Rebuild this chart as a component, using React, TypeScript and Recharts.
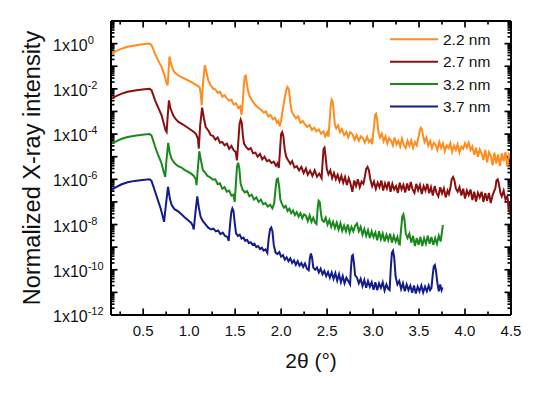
import React from 'react';
import { LineChart, Line, XAxis, YAxis, Legend } from 'recharts';

const FONT = '"Liberation Sans", Arial, Helvetica, sans-serif';

const seriesNames = ['2.2 nm', '2.7 nm', '3.2 nm', '3.7 nm'];
const seriesColors = ['#FF8C1E', '#8A1010', '#18891A', '#121C8A'];

// [2θ (deg), log10(normalized intensity)]
const orange22: [number, number][] = [
  [0.15, -0.45], [0.2, -0.34], [0.26, -0.23], [0.33, -0.14], [0.41, -0.08], [0.49, -0.03], [0.57, 0.0], [0.59, -0.06],
  [0.61, -0.25], [0.63, -0.47], [0.66, -0.72], [0.7, -1.04], [0.73, -1.38], [0.755, -1.75], [0.766, -1.85], [0.776, -1.2],
  [0.786, -0.57], [0.8, -0.85], [0.826, -1.18], [0.85, -1.3], [0.88, -1.4], [0.916, -1.48], [0.95, -1.55], [0.985, -1.62],
  [1.025, -1.7], [1.06, -1.79], [1.09, -1.86], [1.116, -1.95], [1.128, -2.3], [1.136, -2.73], [1.15, -1.8], [1.17, -0.96],
  [1.185, -1.2], [1.207, -1.62], [1.23, -1.82], [1.26, -1.99],
  [1.285, -2.02], [1.31, -2.18], [1.335, -2.12], [1.36, -2.35], [1.385, -2.28], [1.41, -2.42], [1.435, -2.52], [1.46, -2.48],
  [1.485, -2.7], [1.51, -2.64], [1.535, -2.85], [1.555, -2.78], [1.57, -3.15], [1.585, -2.5], [1.595, -1.8], [1.605, -1.45],
  [1.615, -1.42], [1.625, -1.7], [1.64, -2.1], [1.66, -2.35], [1.685, -2.52], [1.71, -2.66], [1.735, -2.78], [1.76, -2.86],
  [1.785, -2.94], [1.81, -3.05], [1.835, -3.0], [1.86, -3.22], [1.885, -3.15], [1.91, -3.35], [1.935, -3.28], [1.955, -3.5],
  [1.97, -3.42], [1.985, -3.65], [2.0, -3.4], [2.015, -3.0], [2.035, -2.5], [2.055, -2.05], [2.07, -1.92], [2.085, -2.05],
  [2.1, -2.6], [2.115, -3.0], [2.135, -3.15], [2.16, -3.3], [2.185, -3.22], [2.21, -3.5], [2.235, -3.42], [2.26, -3.58],
  [2.285, -3.68], [2.31, -3.6], [2.335, -3.82], [2.36, -3.72], [2.385, -3.88], [2.41, -3.8], [2.435, -3.98], [2.46, -3.88],
  [2.48, -4.1], [2.5, -3.92], [2.515, -4.12], [2.53, -3.3], [2.54, -2.7], [2.55, -2.48], [2.56, -2.55], [2.572, -3.0],
  [2.585, -3.6], [2.6, -3.75], [2.62, -3.62], [2.64, -3.92], [2.66, -3.78], [2.685, -4.05], [2.71, -3.9], [2.73, -4.15],
  [2.75, -3.92], [2.775, -4.0], [2.8, -4.25], [2.82, -4.05], [2.845, -4.3], [2.865, -4.1], [2.89, -4.18], [2.91, -4.38],
  [2.935, -4.12], [2.955, -4.35], [2.975, -4.25], [2.99, -4.45], [3.0, -4.0], [3.012, -3.6], [3.022, -3.15], [3.032, -3.1],
  [3.044, -3.35], [3.058, -3.9], [3.075, -4.15], [3.095, -3.98], [3.115, -4.32], [3.135, -4.1], [3.155, -4.42], [3.175, -4.18],
  [3.195, -4.28], [3.215, -4.5], [3.235, -4.15], [3.255, -4.45], [3.275, -4.3], [3.295, -4.55], [3.315, -4.2], [3.335, -4.48],
  [3.355, -4.62], [3.375, -4.3], [3.395, -4.52], [3.415, -4.28], [3.435, -4.6], [3.455, -4.35], [3.475, -4.5], [3.49, -4.2],
  [3.5, -4.05], [3.51, -3.8], [3.52, -3.72], [3.532, -3.8], [3.545, -4.1], [3.56, -4.35], [3.58, -4.15], [3.6, -4.5],
  [3.62, -4.3], [3.64, -4.62], [3.66, -4.38], [3.68, -4.48], [3.7, -4.7], [3.72, -4.35], [3.74, -4.62], [3.76, -4.42],
  [3.78, -4.75], [3.8, -4.5], [3.82, -4.62], [3.84, -4.4], [3.86, -4.78], [3.88, -4.52], [3.9, -4.7], [3.92, -4.45],
  [3.94, -4.82], [3.96, -4.55], [3.98, -4.65], [4.0, -4.4], [4.02, -4.6], [4.04, -4.38], [4.06, -4.7], [4.08, -4.55],
  [4.1, -4.92], [4.12, -4.6], [4.14, -5.0], [4.16, -4.68], [4.18, -4.85], [4.2, -5.15], [4.22, -4.7], [4.24, -5.25],
  [4.26, -4.8], [4.28, -4.95], [4.3, -5.38], [4.32, -4.82], [4.34, -5.3], [4.36, -4.9], [4.38, -5.42], [4.4, -4.85],
  [4.42, -5.2], [4.44, -4.8], [4.46, -5.45], [4.48, -4.9], [4.5, -5.05],
];

const maroon27: [number, number][] = [
  [0.15, -2.43], [0.2, -2.33], [0.26, -2.22], [0.33, -2.13], [0.41, -2.07], [0.49, -2.03], [0.57, -2.0], [0.59, -2.06],
  [0.61, -2.28], [0.63, -2.52], [0.66, -2.8], [0.7, -3.17], [0.725, -3.55], [0.745, -3.85], [0.755, -3.91], [0.765, -3.3],
  [0.78, -2.51], [0.795, -2.85], [0.826, -3.17], [0.85, -3.32], [0.88, -3.45], [0.916, -3.54], [0.95, -3.62], [0.985, -3.72],
  [1.025, -3.83], [1.05, -3.9], [1.075, -4.0], [1.095, -4.2], [1.105, -4.64], [1.12, -3.6], [1.141, -2.83], [1.16, -3.3],
  [1.18, -3.69], [1.21, -3.85], [1.235, -4.05], [1.26, -4.08],
  [1.285, -4.25], [1.31, -4.15], [1.335, -4.38], [1.36, -4.35], [1.385, -4.5], [1.41, -4.42], [1.435, -4.65], [1.46, -4.52],
  [1.485, -4.72], [1.505, -4.78], [1.52, -5.16], [1.535, -4.3], [1.548, -3.55], [1.56, -3.36], [1.572, -3.5], [1.585, -4.1],
  [1.597, -4.42], [1.62, -4.58], [1.645, -4.68], [1.67, -4.62], [1.695, -4.85], [1.72, -4.82], [1.745, -5.0], [1.77, -4.88],
  [1.795, -5.12], [1.82, -5.0], [1.845, -5.2], [1.87, -5.15], [1.895, -5.28], [1.92, -5.22], [1.945, -5.4], [1.96, -5.3],
  [1.975, -5.5], [1.99, -4.6], [2.0, -4.0], [2.012, -3.91], [2.025, -4.1], [2.04, -4.7], [2.055, -5.0], [2.075, -5.15],
  [2.1, -5.32], [2.12, -5.2], [2.145, -5.48], [2.17, -5.42], [2.195, -5.6], [2.22, -5.45], [2.245, -5.72], [2.27, -5.52],
  [2.29, -5.8], [2.315, -5.62], [2.34, -5.85], [2.365, -5.6], [2.39, -5.88], [2.415, -5.75], [2.44, -5.95], [2.452, -5.2],
  [2.462, -4.65], [2.472, -4.6], [2.484, -5.0], [2.497, -5.55], [2.515, -5.78], [2.535, -5.6], [2.555, -5.95], [2.575, -5.72],
  [2.595, -6.0], [2.615, -5.8], [2.635, -6.08], [2.655, -5.85], [2.675, -6.15], [2.695, -5.9], [2.715, -6.25], [2.735, -5.95],
  [2.755, -6.2], [2.775, -6.55], [2.795, -6.05], [2.815, -6.3], [2.835, -6.0], [2.855, -6.35], [2.875, -6.1], [2.895, -6.2],
  [2.91, -5.9], [2.925, -5.55], [2.94, -5.45], [2.955, -5.6], [2.97, -6.0], [2.99, -6.3], [3.01, -6.1], [3.03, -6.42],
  [3.05, -6.15], [3.07, -6.35], [3.09, -6.05], [3.11, -6.5], [3.13, -6.18], [3.15, -6.4], [3.17, -6.1], [3.19, -6.55],
  [3.21, -6.2], [3.23, -6.45], [3.25, -6.3], [3.27, -6.6], [3.29, -6.15], [3.31, -6.45], [3.33, -6.25], [3.35, -6.58],
  [3.37, -6.18], [3.39, -6.5], [3.41, -6.12], [3.43, -6.45], [3.45, -6.6], [3.47, -6.2], [3.49, -6.48], [3.51, -6.25],
  [3.53, -6.65], [3.55, -6.3], [3.57, -6.5], [3.59, -6.2], [3.61, -6.62], [3.63, -6.35], [3.65, -6.72], [3.67, -6.3],
  [3.69, -6.6], [3.71, -6.75], [3.73, -6.35], [3.75, -6.62], [3.77, -6.4], [3.79, -6.8], [3.81, -6.5], [3.825, -6.65],
  [3.84, -6.4], [3.855, -6.0], [3.87, -5.9], [3.885, -6.05], [3.9, -6.4], [3.92, -6.55], [3.94, -6.35], [3.96, -6.72],
  [3.98, -6.42], [4.0, -6.85], [4.02, -6.5], [4.04, -6.7], [4.06, -6.45], [4.08, -6.92], [4.1, -6.55], [4.12, -6.98],
  [4.14, -6.6], [4.16, -6.8], [4.18, -6.55], [4.2, -7.0], [4.22, -6.62], [4.24, -6.95], [4.26, -6.6], [4.28, -7.05],
  [4.3, -6.7], [4.315, -6.55], [4.33, -6.4], [4.342, -6.05], [4.355, -6.0], [4.368, -6.2], [4.385, -6.6], [4.4, -6.75],
  [4.42, -6.5], [4.44, -6.9], [4.46, -6.75], [4.475, -7.2], [4.49, -7.5], [4.5, -7.45],
];

const green32: [number, number][] = [
  [0.15, -4.43], [0.2, -4.33], [0.26, -4.22], [0.33, -4.13], [0.41, -4.07], [0.49, -4.03], [0.57, -4.0], [0.59, -4.06],
  [0.61, -4.3], [0.63, -4.56], [0.66, -4.9], [0.7, -5.3], [0.725, -5.7], [0.74, -5.89], [0.752, -5.2], [0.772, -4.39],
  [0.79, -4.85], [0.81, -5.1], [0.84, -5.28], [0.88, -5.42], [0.916, -5.48], [0.95, -5.58], [0.985, -5.66], [1.025, -5.76],
  [1.05, -5.85], [1.07, -5.98], [1.08, -6.26], [1.095, -5.5], [1.11, -4.76], [1.13, -5.2], [1.15, -5.6], [1.175, -5.72],
  [1.2, -5.85], [1.23, -5.92], [1.26, -6.02],
  [1.285, -6.0], [1.31, -6.22], [1.335, -6.18], [1.36, -6.42], [1.385, -6.35], [1.41, -6.55], [1.435, -6.5], [1.46, -6.72],
  [1.48, -6.68], [1.495, -7.0], [1.508, -6.2], [1.52, -5.45], [1.532, -5.27], [1.545, -5.5], [1.56, -6.2], [1.58, -6.45],
  [1.605, -6.58], [1.63, -6.52], [1.655, -6.75], [1.68, -6.68], [1.705, -6.9], [1.73, -6.8], [1.755, -7.0], [1.78, -6.9],
  [1.805, -7.1], [1.83, -7.05], [1.855, -7.2], [1.88, -7.12], [1.905, -7.28], [1.925, -7.05], [1.94, -6.4], [1.952, -6.0],
  [1.965, -5.97], [1.978, -6.3], [1.992, -6.9], [2.01, -7.1], [2.03, -7.25], [2.05, -7.18], [2.07, -7.4], [2.09, -7.3],
  [2.11, -7.5], [2.13, -7.38], [2.15, -7.58], [2.17, -7.45], [2.19, -7.65], [2.21, -7.5], [2.23, -7.72], [2.25, -7.55],
  [2.27, -7.62], [2.29, -7.85], [2.31, -7.6], [2.33, -7.88], [2.35, -7.7], [2.37, -7.92], [2.385, -7.98], [2.397, -7.3],
  [2.408, -6.95], [2.42, -7.0], [2.433, -7.5], [2.445, -7.8], [2.465, -7.88], [2.485, -7.7], [2.505, -8.0], [2.525, -7.8],
  [2.545, -8.1], [2.565, -7.88], [2.585, -8.15], [2.605, -7.92], [2.625, -8.22], [2.645, -7.95], [2.665, -8.28], [2.685, -8.05],
  [2.705, -8.3], [2.725, -8.0], [2.745, -8.35], [2.765, -8.1], [2.785, -8.3], [2.805, -8.05], [2.825, -7.95], [2.845, -8.3],
  [2.865, -8.1], [2.885, -8.45], [2.905, -8.2], [2.925, -8.5], [2.945, -8.25], [2.965, -8.6], [2.985, -8.3], [3.005, -8.55],
  [3.025, -8.35], [3.045, -8.7], [3.065, -8.3], [3.085, -8.65], [3.105, -8.4], [3.125, -8.75], [3.145, -8.45], [3.165, -8.7],
  [3.185, -8.4], [3.205, -8.8], [3.225, -8.5], [3.245, -8.75], [3.265, -8.55], [3.28, -8.85], [3.29, -8.88], [3.305, -8.2],
  [3.318, -7.65], [3.33, -7.55], [3.342, -7.8], [3.356, -8.4], [3.375, -8.6], [3.395, -8.4], [3.415, -8.8], [3.435, -8.5],
  [3.455, -8.95], [3.475, -8.6], [3.495, -8.9], [3.515, -8.55], [3.535, -8.95], [3.555, -8.6], [3.575, -8.85], [3.595, -8.5],
  [3.615, -8.85], [3.635, -8.55], [3.655, -8.9], [3.675, -8.6], [3.695, -8.85], [3.715, -8.5], [3.735, -8.75], [3.75, -8.3],
  [3.76, -8.03],
];

const navy37: [number, number][] = [
  [0.15, -6.48], [0.2, -6.36], [0.26, -6.23], [0.33, -6.13], [0.41, -6.07], [0.49, -6.03], [0.57, -6.0], [0.59, -6.07],
  [0.61, -6.3], [0.63, -6.55], [0.66, -6.92], [0.69, -7.29], [0.71, -7.6], [0.727, -7.88], [0.745, -7.2], [0.77, -6.33],
  [0.79, -6.85], [0.81, -7.14], [0.84, -7.32], [0.88, -7.42], [0.916, -7.55], [0.95, -7.68], [0.985, -7.8], [1.02, -7.92],
  [1.04, -8.05], [1.05, -8.22], [1.07, -7.4], [1.088, -6.75], [1.105, -7.25], [1.125, -7.66], [1.15, -7.85], [1.18, -8.0],
  [1.21, -8.15], [1.24, -8.22],
  [1.265, -8.18], [1.29, -8.3], [1.315, -8.26], [1.34, -8.42], [1.365, -8.36], [1.39, -8.5], [1.415, -8.55], [1.43, -8.72],
  [1.445, -8.0], [1.458, -7.45], [1.47, -7.29], [1.482, -7.4], [1.495, -7.9], [1.51, -8.39], [1.53, -8.5], [1.55, -8.45],
  [1.57, -8.62], [1.59, -8.58], [1.61, -8.72], [1.63, -8.68], [1.65, -8.82], [1.67, -8.78], [1.69, -8.9], [1.71, -8.85],
  [1.73, -9.0], [1.75, -8.95], [1.77, -9.08], [1.79, -9.02], [1.81, -9.15], [1.83, -9.1], [1.85, -9.25], [1.865, -8.6],
  [1.88, -8.2], [1.893, -8.13], [1.906, -8.3], [1.92, -8.9], [1.94, -9.25], [1.96, -9.3], [1.98, -9.22], [2.0, -9.42],
  [2.02, -9.35], [2.04, -9.55], [2.06, -9.45], [2.08, -9.62], [2.1, -9.5], [2.12, -9.7], [2.14, -9.58], [2.16, -9.78],
  [2.18, -9.62], [2.2, -9.82], [2.22, -9.7], [2.24, -9.88], [2.26, -9.72], [2.28, -9.95], [2.3, -10.02], [2.312, -9.5],
  [2.324, -9.28], [2.336, -9.45], [2.35, -9.9], [2.37, -10.0], [2.39, -9.9], [2.41, -10.12], [2.43, -9.95], [2.45, -10.2],
  [2.47, -10.05], [2.49, -10.28], [2.51, -10.1], [2.53, -10.35], [2.55, -10.12], [2.57, -10.4], [2.59, -10.15], [2.61, -10.48],
  [2.63, -10.2], [2.65, -10.55], [2.67, -10.28], [2.69, -10.6], [2.71, -10.35], [2.73, -10.5], [2.75, -10.65], [2.76, -9.9],
  [2.77, -9.4], [2.78, -9.35], [2.792, -9.7], [2.805, -10.25], [2.825, -10.35], [2.845, -10.6], [2.865, -10.4], [2.885, -10.72],
  [2.905, -10.45], [2.925, -10.8], [2.945, -10.5], [2.965, -10.75], [2.985, -10.55], [3.005, -10.88], [3.025, -10.55], [3.045, -10.9],
  [3.065, -10.6], [3.085, -10.8], [3.105, -10.55], [3.125, -10.92], [3.145, -10.65], [3.165, -10.85], [3.18, -10.9], [3.193, -9.9],
  [3.205, -9.25], [3.217, -9.16], [3.23, -9.45], [3.245, -10.3], [3.265, -10.65], [3.285, -10.5], [3.305, -10.85], [3.325, -10.6],
  [3.345, -10.95], [3.365, -10.65], [3.385, -10.9], [3.405, -10.7], [3.425, -11.02], [3.445, -10.7], [3.465, -11.05], [3.485, -10.75],
  [3.505, -10.95], [3.525, -10.7], [3.545, -11.0], [3.565, -10.75], [3.585, -10.95], [3.605, -10.7], [3.62, -10.9], [3.635, -10.8],
  [3.648, -10.25], [3.66, -9.85], [3.672, -9.79], [3.684, -10.05], [3.7, -10.6], [3.715, -10.95], [3.73, -10.65], [3.745, -10.9],
  [3.755, -10.78],
];

const seriesData = [orange22, maroon27, green32, navy37];

const xMajorTicks = [0.5, 1.0, 1.5, 2.0, 2.5, 3.0, 3.5, 4.0, 4.5];
const xMinorTicks = [0.25, 0.75, 1.25, 1.75, 2.25, 2.75, 3.25, 3.75, 4.25];
const yLabelExponents = [-12, -10, -8, -6, -4, -2, 0];
const yDecadeExponents = [-12, -11, -10, -9, -8, -7, -6, -5, -4, -3, -2, -1, 0, 1];
const X_DOMAIN: [number, number] = [0.15, 4.5];
const Y_DOMAIN: [number, number] = [1e-12, 10];

// chart geometry
const CHART_W = 532;
const CHART_H = 380;
const MARGIN = { top: 12, right: 28, bottom: 0, left: 0 };
const LEFT_W = 103;
const BOTTOM_H = 73;
const PLOT_W = CHART_W - MARGIN.left - MARGIN.right - LEFT_W - 1;
const PLOT_H = CHART_H - MARGIN.top - MARGIN.bottom - BOTTOM_H - 1;

const yMajorTicks = yDecadeExponents.map((e) => Math.pow(10, e));
const yMinorTicks: number[] = [];
yDecadeExponents.slice(0, -1).forEach((e) => {
  for (let k = 2; k <= 9; k++) yMinorTicks.push(k * Math.pow(10, e));
});

const toPoints = (arr: [number, number][]) => arr.map(([x, e]) => ({ x, y: Math.pow(10, e) }));

// inward tick marks: pixel lengths converted through the axis scales
const MAJ_LEN = 6.5;
const MIN_LEN = 3.5;
const xPerPx = (X_DOMAIN[1] - X_DOMAIN[0]) / PLOT_W;
const decPerPx = (Math.log10(Y_DOMAIN[1]) - Math.log10(Y_DOMAIN[0])) / PLOT_H;

type Pt = { x: number; y: number };
type Tick = { key: string; data: Pt[] };
const tickMarks: Tick[] = [];
const addX = (v: number, len: number) => {
  const f = Math.pow(10, len * decPerPx);
  tickMarks.push({ key: `b${v}`, data: [{ x: v, y: Y_DOMAIN[0] }, { x: v, y: Y_DOMAIN[0] * f }] });
  tickMarks.push({ key: `t${v}`, data: [{ x: v, y: Y_DOMAIN[1] }, { x: v, y: Y_DOMAIN[1] / f }] });
};
const addY = (v: number, len: number) => {
  const d = len * xPerPx;
  tickMarks.push({ key: `l${v}`, data: [{ x: X_DOMAIN[0], y: v }, { x: X_DOMAIN[0] + d, y: v }] });
  tickMarks.push({ key: `r${v}`, data: [{ x: X_DOMAIN[1], y: v }, { x: X_DOMAIN[1] - d, y: v }] });
};
xMajorTicks.forEach((v) => addX(v, MAJ_LEN));
xMinorTicks.forEach((v) => addX(v, MIN_LEN));
yMajorTicks.forEach((v) => addY(v, MAJ_LEN));
yMinorTicks.forEach((v) => addY(v, MIN_LEN));

const seriesAxes: [string, string][] = [
  ['b', 'l'],
  ['b', 'l'],
  ['t', 'r'],
  ['t', 'r'],
];

const LeftLabel = (props: any) => {
  const x = Number(props.x);
  const y = Number(props.y);
  const e = Math.round(Math.log10(Number(props.payload.value)));
  if (!yLabelExponents.includes(e)) return <g />;
  return (
    <text x={x - 58} y={y + 7} fontSize={16} fontFamily={FONT} fill="#111" stroke="none" textAnchor="start">
      1x10
      <tspan fontSize={11} dy={-7}>{String(e)}</tspan>
    </text>
  );
};

const BottomLabel = (props: any) => {
  const x = Number(props.x);
  const y = Number(props.y);
  const v = Number(props.payload.value);
  return (
    <text x={x} y={y + 21} fontSize={15} fontFamily={FONT} fill="#111" stroke="none" textAnchor="middle">
      {v.toFixed(1)}
    </text>
  );
};

const LegendBox = () => (
  <svg width={120} height={95} style={{ display: 'block' }}>
    {seriesNames.map((name, i) => {
      const cy = 11.3 + i * 22.4;
      return (
        <g key={name}>
          <line x1={2} x2={50} y1={cy} y2={cy} stroke={seriesColors[i]} strokeWidth={2} />
          <text x={55} y={cy + 5.5} fontSize={15.5} fontFamily={FONT} fill="#111">
            {name}
          </text>
        </g>
      );
    })}
  </svg>
);

const axisLineStyle = { stroke: '#000', strokeWidth: 2 };
const common = { type: 'number' as const, allowDataOverflow: true, interval: 0 as const };

export default function App() {
  return (
    <LineChart width={CHART_W} height={CHART_H} margin={MARGIN}>
      <XAxis
        xAxisId="b"
        orientation="bottom"
        dataKey="x"
        scale="linear"
        domain={X_DOMAIN}
        ticks={xMajorTicks}
        tickSize={0}
        tickMargin={0}
        tickLine={false}
        tick={(p: any) => <BottomLabel {...p} />}
        height={BOTTOM_H}
        axisLine={axisLineStyle}
        {...common}
        label={{
          content: (p: any) => {
            const vb = p.viewBox || {};
            return (
              <text x={vb.x + vb.width / 2} y={vb.y + 53} fontSize={21} fontFamily={FONT} fill="#111" textAnchor="middle">
                2θ (°)
              </text>
            );
          },
        }}
      />
      <XAxis xAxisId="t" orientation="top" dataKey="x" scale="linear" domain={X_DOMAIN} ticks={xMajorTicks}
        tickLine={false} tick={false} axisLine={axisLineStyle} height={1} {...common} />
      <YAxis
        yAxisId="l"
        orientation="left"
        scale="log"
        domain={Y_DOMAIN}
        ticks={yMajorTicks}
        tickSize={0}
        tickMargin={0}
        tickLine={false}
        tick={(p: any) => <LeftLabel {...p} />}
        width={LEFT_W}
        axisLine={axisLineStyle}
        {...common}
        label={{
          content: () => (
            <text x={32} y={160} transform="rotate(-90, 32, 160)" fontSize={23.5} fontFamily={FONT} fill="#111" textAnchor="middle">
              Normalized X-ray intensity
            </text>
          ),
        }}
      />
      <YAxis yAxisId="r" orientation="right" scale="log" domain={Y_DOMAIN} ticks={yMajorTicks}
        tickLine={false} tick={false} axisLine={axisLineStyle} width={1} {...common} />

      {tickMarks.map((t) => (
        <Line
          key={t.key}
          data={t.data}
          dataKey="y"
          xAxisId="b"
          yAxisId="l"
          type="linear"
          stroke="#000"
          strokeWidth={1.7}
          dot={false}
          activeDot={false}
          legendType="none"
          isAnimationActive={false}
        />
      ))}

      {seriesData.map((arr, i) => (
        <Line
          key={seriesNames[i]}
          name={seriesNames[i]}
          data={toPoints(arr)}
          dataKey="y"
          xAxisId={seriesAxes[i][0]}
          yAxisId={seriesAxes[i][1]}
          type="linear"
          stroke={seriesColors[i]}
          strokeWidth={2}
          dot={false}
          activeDot={false}
          isAnimationActive={false}
        />
      ))}

      <Legend
        layout="vertical"
        align="center"
        verticalAlign="middle"
        wrapperStyle={{ left: 380, top: 20, width: 120, height: 95 }}
        content={() => <LegendBox />}
      />
    </LineChart>
  );
}
